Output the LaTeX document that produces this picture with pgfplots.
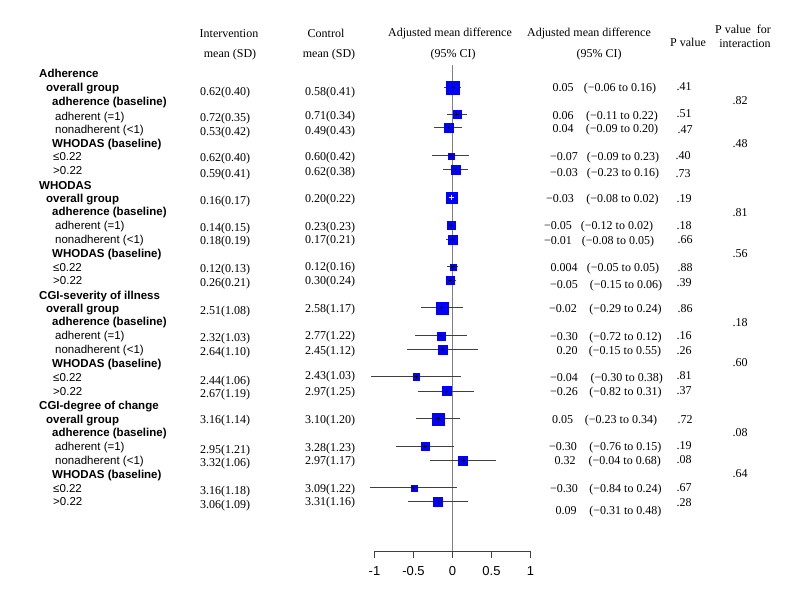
\documentclass[border=0pt]{standalone}
\usepackage{pgfplots}
\pgfplotsset{compat=1.18}
\usepackage{pgfplotstable}
\usepackage{fontspec}
\setmainfont{Liberation Serif}
\setsansfont{Liberation Sans}

\pgfplotstableread{
y     est    lo     hi    s
512.7  0.003 -0.109 0.105 6.5
485.7  0.054 -0.074 0.182 4
472.3 -0.054 -0.233 0.118 4.5
444.3 -0.023 -0.267 0.215 3
430.3  0.041 -0.118 0.195 4.5
402.3 -0.015 -0.058 0.032 5.5
375.0 -0.019 -0.067 0.036 4
360.7 -0.003 -0.083 0.062 4.5
333.3  0.003 -0.067 0.074 3
320.0 -0.032 -0.083 0.045 4
292.3 -0.138 -0.408 0.131 6
264.3 -0.147 -0.481 0.190 4
250.7 -0.131 -0.587 0.323 4.5
223.3 -0.468 -1.045 0.105 3.2
209.0 -0.079 -0.438 0.276 4.5
181.3 -0.186 -0.472 0.096 6
153.7 -0.356 -0.728 0.015 4
139.7  0.135 -0.288 0.562 4.5
112.3 -0.497 -1.058 0.062 3
98.3  -0.186 -0.567 0.195 4.5
}\forest

\tikzset{
 lab/.style={anchor=base west, inner sep=0pt, yshift=-4.1pt, font=\fontsize{11.5}{13}\selectfont\sffamily},
 labb/.style={anchor=base west, inner sep=0pt, yshift=-4.1pt, font=\fontsize{11.5}{13}\selectfont\sffamily\bfseries},
 num/.style={anchor=base, inner sep=0pt, yshift=-4.2pt, font=\fontsize{12}{14}\selectfont},
}
\newcommand{\B}[3]{\node[labb] at (#1pt,-#2pt) {#3};}
\newcommand{\R}[3]{\node[lab] at (#1pt,-#2pt) {#3};}
\newcommand{\N}[3]{\node[num] at (#1pt,-#2pt) {#3};}

\begin{document}
\begin{tikzpicture}
\useasboundingbox (0pt,0pt) rectangle (800pt,-600pt);
\begin{axis}[
  at={(374.5pt,-551pt)}, anchor=south west,
  scale only axis, width=156pt, height=486pt,
  xmin=-1, xmax=1, ymin=49, ymax=535,
  axis x line=bottom, axis y line=none,
  x axis line style={-, black!75, line width=0.8pt},
  xtick={-1,-0.5,0,0.5,1}, xticklabels={-1,-0.5,0,0.5,1},
  xtick align=outside, major tick length=7pt,
  tick style={black!75, line width=0.8pt},
  xticklabel style={font=\fontsize{13}{15}\selectfont\sffamily, yshift=-5pt},
  clip=false,
]
\addplot[black!50, line width=1.3pt] coordinates {(0,49) (0,535)};
\addplot[only marks, mark=none,
  error bars/.cd, x dir=both, x explicit, error mark=none,
  error bar style={line width=0.8pt, black!75}]
  table[x=est, y=y, x error plus expr=\thisrow{hi}-\thisrow{est}, x error minus expr=\thisrow{est}-\thisrow{lo}]{\forest};
\addplot[scatter, only marks, mark=square*,
  scatter/use mapped color={draw=blue, fill=blue},
  visualization depends on={\thisrow{s} \as \ms},
  scatter/@pre marker code/.append style={/tikz/mark size=\ms pt}]
  table[x=est, y=y]{\forest};
\addplot[only marks, mark=+, mark size=2pt, black, line width=0.5pt] table[x=est, y=y]{\forest};
\addplot[only marks, mark=+, mark size=2.6pt, white, line width=0.6pt] coordinates {(-0.015,402.3)};
\end{axis}

% headers
\N{229}{33}{Intervention}
\N{230}{53.3}{mean (SD)}
\N{326}{33}{Control}
\N{329}{53.3}{mean (SD)}
\N{450}{32.3}{Adjusted mean difference}
\N{453}{53.3}{(95\% CI)}
\N{589}{32}{Adjusted mean difference}
\N{599}{53.3}{(95\% CI)}
\N{688}{42}{P value}
\N{743}{29.3}{P value\ \ for}
\N{745}{43.3}{interaction}

% left labels
\B{39}{73.3}{Adherence}
\B{46}{87.3}{overall group}
\B{52}{101.7}{adherence (baseline)}
\R{55}{116.7}{adherent (=1)}
\R{55}{129}{nonadherent (<1)}
\B{52}{143.3}{WHODAS (baseline)}
\R{53}{156.7}{≤0.22}
\R{53}{170}{>0.22}
\B{39}{185}{WHODAS}
\B{46}{198.3}{overall group}
\B{52}{211.7}{adherence (baseline)}
\R{55}{225.7}{adherent (=1)}
\R{55}{239.3}{nonadherent (<1)}
\B{52}{253.3}{WHODAS (baseline)}
\R{53}{267.3}{≤0.22}
\R{53}{280.7}{>0.22}
\B{39}{295}{CGI-severity of illness}
\B{46}{308.3}{overall group}
\B{52}{321.7}{adherence (baseline)}
\R{55}{335}{adherent (=1)}
\R{55}{349.3}{nonadherent (<1)}
\B{52}{363.3}{WHODAS (baseline)}
\R{53}{377.3}{≤0.22}
\R{53}{391}{>0.22}
\B{39}{405}{CGI-degree of change}
\B{46}{419}{overall group}
\B{52}{432.7}{adherence (baseline)}
\R{55}{446.7}{adherent (=1)}
\R{55}{460.7}{nonadherent (<1)}
\B{52}{474.3}{WHODAS (baseline)}
\R{53}{488.3}{≤0.22}
\R{53}{501.7}{>0.22}

% intervention / control
\N{225}{91.7}{0.62(0.40)}  \N{330}{91}{0.58(0.41)}
\N{225}{117.3}{0.72(0.35)} \N{330}{115}{0.71(0.34)}
\N{225}{131}{0.53(0.42)}   \N{330}{130}{0.49(0.43)}
\N{225}{157}{0.62(0.40)}   \N{330}{156}{0.60(0.42)}
\N{225}{173}{0.59(0.41)}   \N{330}{171.5}{0.62(0.38)}
\N{225}{200.7}{0.16(0.17)} \N{330}{198.3}{0.20(0.22)}
\N{225}{227.3}{0.14(0.15)} \N{330}{226}{0.23(0.23)}
\N{225}{240.7}{0.18(0.19)} \N{330}{239.3}{0.17(0.21)}
\N{225}{268.3}{0.12(0.13)} \N{330}{266}{0.12(0.16)}
\N{225}{282.7}{0.26(0.21)} \N{330}{280.7}{0.30(0.24)}
\N{225}{310}{2.51(1.08)}   \N{330}{308.3}{2.58(1.17)}
\N{225}{337.3}{2.32(1.03)} \N{330}{335}{2.77(1.22)}
\N{225}{351.7}{2.64(1.10)} \N{330}{350}{2.45(1.12)}
\N{225}{380}{2.44(1.06)}   \N{330}{375}{2.43(1.03)}
\N{225}{393.3}{2.67(1.19)} \N{330}{391}{2.97(1.25)}
\N{225}{419.3}{3.16(1.14)} \N{330}{419.3}{3.10(1.20)}
\N{225}{449}{2.95(1.21)}   \N{330}{447.7}{3.28(1.23)}
\N{225}{462.7}{3.32(1.06)} \N{330}{460}{2.97(1.17)}
\N{225}{490}{3.16(1.18)}   \N{330}{488.3}{3.09(1.22)}
\N{225}{504.3}{3.06(1.09)} \N{330}{501.7}{3.31(1.16)}

% estimates, CI, p values
\N{563}{87}{0.05}    \N{620}{87}{(−0.06 to 0.16)}   \N{684}{86}{.41}
\N{740}{100}{.82}
\N{563}{115}{0.06}   \N{622}{115}{(−0.11 to 0.22)}  \N{684}{113.3}{.51}
\N{563}{128.3}{0.04} \N{622}{128.3}{(−0.09 to 0.20)} \N{685}{129}{.47}
\N{740}{143.3}{.48}
\N{564}{156.7}{−0.07} \N{623}{156.7}{(−0.09 to 0.23)} \N{683}{155.7}{.40}
\N{564}{172.7}{−0.03} \N{623}{172.7}{(−0.23 to 0.16)} \N{683}{173.3}{.73}
\N{560}{198.3}{−0.03} \N{622.5}{198.3}{(−0.08 to 0.02)} \N{684}{198.3}{.19}
\N{740}{212.3}{.81}
\N{558}{225}{−0.05}  \N{617}{225}{(−0.12 to 0.02)}  \N{684}{225}{.18}
\N{558}{240}{−0.01}  \N{618}{240}{(−0.08 to 0.05)}  \N{685}{239}{.66}
\N{740}{253.3}{.56}
\N{564}{267.7}{0.004} \N{623}{267.7}{(−0.05 to 0.05)} \N{685}{267}{.88}
\N{564}{284}{−0.05}  \N{626}{284}{(−0.15 to 0.06)}  \N{684}{282}{.39}
\N{563}{308.3}{−0.02} \N{625.5}{308.3}{(−0.29 to 0.24)} \N{685}{308.3}{.86}
\N{740}{322.3}{.18}
\N{564}{336}{−0.30}  \N{625.5}{336}{(−0.72 to 0.12)} \N{684}{335}{.16}
\N{567}{350.3}{0.20} \N{625}{350.3}{(−0.15 to 0.55)} \N{684}{350}{.26}
\N{740}{362.7}{.60}
\N{564}{377.3}{−0.04} \N{626.7}{377.3}{(−0.30 to 0.38)} \N{684}{375.7}{.81}
\N{564}{391.7}{−0.26} \N{625.5}{391.7}{(−0.82 to 0.31)} \N{684}{390.7}{.37}
\N{562.5}{419.3}{0.05} \N{621}{419.3}{(−0.23 to 0.34)} \N{685}{419}{.72}
\N{740}{432.7}{.08}
\N{563}{446.7}{−0.30} \N{625.3}{446.7}{(−0.76 to 0.15)} \N{684}{445}{.19}
\N{565}{460}{0.32}   \N{624.7}{460}{(−0.04 to 0.68)} \N{684}{459}{.08}
\N{740}{473.3}{.64}
\N{564}{488.7}{−0.30} \N{625.5}{488.7}{(−0.84 to 0.24)} \N{684}{487}{.67}
\N{566}{510.7}{0.09} \N{625.3}{510.7}{(−0.31 to 0.48)} \N{684}{502.7}{.28}
\end{tikzpicture}
\end{document}
